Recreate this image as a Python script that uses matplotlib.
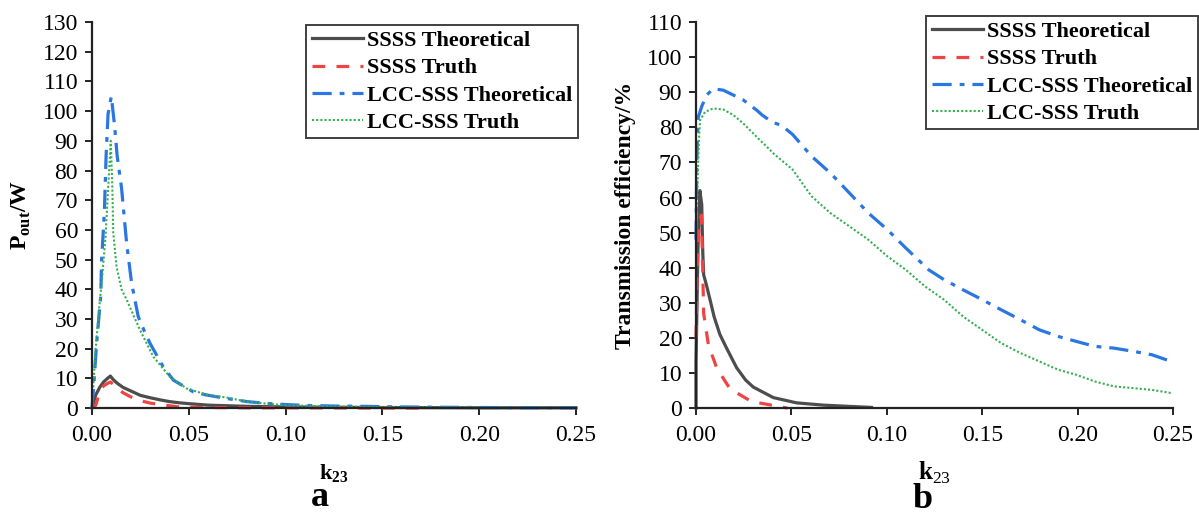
import numpy as np
import matplotlib
matplotlib.use("Agg")
import matplotlib.pyplot as plt
from matplotlib.ticker import MultipleLocator, FormatStrFormatter

plt.rcParams['font.family'] = ['Liberation Serif', 'DejaVu Serif']
plt.rcParams['mathtext.fontset'] = 'custom'
plt.rcParams['mathtext.rm'] = 'Liberation Serif'
plt.rcParams['mathtext.bf'] = 'Liberation Serif:bold'

LABELS = ["SSSS Theoretical", "SSSS Truth", "LCC-SSS Theoretical", "LCC-SSS Truth"]
COLORS = ["#4d4d4d", "#f04444", "#2a76e2", "#34b050"]

# ---- (a) output power P_out vs coupling k23 ----
pow_ssss_th_k = [0, 0.002, 0.004, 0.006, 0.008, 0.0095, 0.011, 0.013, 0.016, 0.02, 0.025,
                 0.03, 0.035, 0.04, 0.045, 0.05, 0.06, 0.07, 0.08, 0.1, 0.12, 0.15, 0.2, 0.25]
pow_ssss_th = [0, 4.5, 7, 8.8, 10, 10.8, 9.6, 8.4, 7, 5.8, 4.3,
               3.5, 2.8, 2.2, 1.8, 1.5, 1.0, 0.8, 0.6, 0.4, 0.3, 0.2, 0.1, 0.1]

pow_ssss_tr_k = [0, 0.002, 0.004, 0.006, 0.008, 0.0095, 0.011, 0.013, 0.016, 0.02, 0.025,
                 0.03, 0.035, 0.04, 0.045, 0.05, 0.06, 0.08, 0.1, 0.13, 0.17]
pow_ssss_tr = [0, 1.0, 5.5, 7.5, 8.3, 8.8, 8.0, 6.8, 5.2, 3.8, 2.5,
               1.7, 1.2, 0.8, 0.4, 0.3, 0.2, 0.1, 0.1, 0.05, 0]

pow_lcc_th_k = [0, 0.001, 0.0024, 0.0045, 0.005, 0.0064, 0.0073, 0.0083, 0.01, 0.0117, 0.013,
                0.0153, 0.0179, 0.0205, 0.0239, 0.027, 0.03, 0.0368, 0.0421, 0.0523, 0.0593,
                0.07, 0.08, 0.09, 0.1, 0.11, 0.125, 0.14, 0.16, 0.2, 0.25]
pow_lcc_th = [0, 8.3, 21.8, 37.5, 49.8, 66, 85, 99, 105, 95, 85,
              74, 55.5, 42, 30.8, 26, 21.8, 13.9, 9.4, 5.5, 4.4,
              3.2, 2.2, 1.6, 1.2, 0.9, 0.7, 0.6, 0.4, 0.2, 0.1]

pow_lcc_tr_k = [0, 0.0009, 0.0018, 0.0036, 0.0053, 0.007, 0.0085, 0.0097, 0.0105, 0.011,
                0.0127, 0.0153, 0.018, 0.0248, 0.0317, 0.0403, 0.0489, 0.0593, 0.07, 0.08,
                0.09, 0.1, 0.12, 0.15, 0.2, 0.25]
pow_lcc_tr = [0, 9.4, 19.2, 33, 44.2, 57.7, 75.7, 90, 75, 59,
              47.6, 40, 36.4, 26.3, 17.3, 10.5, 6.6, 4.5, 3.5, 2.2,
              1.5, 1.0, 0.6, 0.3, 0.15, 0.1]

# ---- (b) transmission efficiency vs coupling k23 ----
eff_ssss_th_k = [0, 0, 0.001, 0.002, 0.003, 0.0035, 0.004, 0.0055, 0.0073, 0.0095, 0.0125,
                 0.0161, 0.0213, 0.026, 0.03, 0.0405, 0.0527, 0.0667, 0.08, 0.092]
eff_ssss_th = [0, 13, 45, 62, 58, 45, 38, 35, 31, 26, 21,
               17, 11.5, 8, 6, 3, 1.5, 0.85, 0.5, 0.2]

eff_ssss_tr_k = [0, 0.0005, 0.001, 0.002, 0.0028, 0.0035, 0.004, 0.0065, 0.0108, 0.0178,
                 0.029, 0.044, 0.048]
eff_ssss_tr = [20, 35, 47, 53, 55, 40, 27, 18, 11.5, 5.5, 1.9, 0.4, 0]

eff_lcc_th_k = [0, 0.0004, 0.0008, 0.0012, 0.003, 0.0056, 0.009, 0.0143, 0.0196, 0.0248,
                0.0318, 0.0347, 0.04, 0.045, 0.0506, 0.0605, 0.0704, 0.0804, 0.0903, 0.1002,
                0.11, 0.122, 0.13, 0.14, 0.15, 0.16, 0.17, 0.18, 0.19, 0.1994, 0.209,
                0.219, 0.229, 0.239, 0.249]
eff_lcc_th = [48, 70, 78, 83, 86, 89.2, 91, 90.6, 89.2, 87.8,
              84.9, 83.5, 81.5, 80.5, 78, 71.8, 67, 61.3, 55.6, 50.9,
              45.6, 39.4, 36.6, 33.7, 30.9, 28, 25.2, 22.3, 20.4, 19, 17.6,
              17.1, 16.2, 15.2, 13.3]

eff_lcc_tr_k = [0, 0.0005, 0.001, 0.0015, 0.0021, 0.0047, 0.009, 0.0143, 0.0196, 0.0248,
                0.0318, 0.038, 0.0407, 0.0506, 0.0605, 0.0704, 0.0804, 0.0903, 0.1002, 0.11,
                0.12, 0.13, 0.14, 0.15, 0.16, 0.17, 0.18, 0.19, 0.1994, 0.209, 0.219,
                0.229, 0.239, 0.249]
eff_lcc_tr = [45, 58, 68, 76, 82, 84.4, 85.4, 85.1, 83.5, 81.1,
              77.3, 74, 72.5, 68, 60.4, 55.6, 51.8, 48, 43.3, 39.4,
              34.7, 30.9, 26.1, 22.3, 18.5, 15.7, 13.3, 10.9, 9.5, 7.6, 6.2,
              5.7, 5.2, 4.3]

STYLES = [dict(ls="-", lw=2.3),
          dict(ls=(0, (4, 3.5)), lw=2.3),
          dict(ls=(0, (6, 2.5, 1.5, 2.5)), lw=2.3),
          dict(ls=(0, (1, 1)), lw=1.5)]


def style_axes(ax, ymax):
    for side in ("top", "right"):
        ax.spines[side].set_visible(False)
    for side in ("left", "bottom"):
        ax.spines[side].set_linewidth(1.6)
        ax.spines[side].set_color("#222222")
    ax.set_xlim(0, 0.25)
    ax.set_ylim(0, ymax)
    ax.xaxis.set_major_locator(MultipleLocator(0.05))
    ax.xaxis.set_major_formatter(FormatStrFormatter("%.2f"))
    ax.yaxis.set_major_locator(MultipleLocator(10))
    ax.tick_params(axis="both", direction="out", length=5, width=1.4,
                   labelsize=17, color="#222222")
    ax.tick_params(axis="x", pad=7)
    ax.tick_params(axis="y", pad=5)


fig = plt.figure(figsize=(11.99, 5.14), dpi=100)
ax_a = fig.add_axes([0.0767, 0.206, 0.4037, 0.751])
ax_b = fig.add_axes([0.5805, 0.206, 0.3978, 0.751])

series_a = [(pow_ssss_th_k, pow_ssss_th), (pow_ssss_tr_k, pow_ssss_tr),
            (pow_lcc_th_k, pow_lcc_th), (pow_lcc_tr_k, pow_lcc_tr)]
series_b = [(eff_ssss_th_k, eff_ssss_th), (eff_ssss_tr_k, eff_ssss_tr),
            (eff_lcc_th_k, eff_lcc_th), (eff_lcc_tr_k, eff_lcc_tr)]

for ax, series in ((ax_a, series_a), (ax_b, series_b)):
    for (k, v), lab, c, st in zip(series, LABELS, COLORS, STYLES):
        ax.plot(k, v, color=c, label=lab, clip_on=False, **st)

style_axes(ax_a, 130)
style_axes(ax_b, 110)

ax_a.set_ylabel(r"P$_{\mathbf{out}}$/W", fontsize=17, fontweight="bold")
ax_b.set_ylabel("Transmission efficiency/%", fontsize=17, fontweight="bold")
ax_a.yaxis.set_label_coords(-0.122, 0.5)
ax_b.yaxis.set_label_coords(-0.126, 0.5)

ax_a.set_xlabel(r"k$_{\mathbf{23}}$", fontsize=16, fontweight="bold")
ax_b.set_xlabel(r"k$_{23}$", fontsize=18, fontweight="bold")
ax_a.xaxis.set_label_coords(0.5, -0.14)
ax_b.xaxis.set_label_coords(0.5, -0.135)

fig.text(320 / 1199, 1 - 497 / 514, "a", fontsize=26, fontweight="bold", ha="center", va="center")
fig.text(923 / 1199, 1 - 499 / 514, "b", fontsize=26, fontweight="bold", ha="center", va="center")

legend_kw = dict(loc="upper right", frameon=True, fancybox=False, shadow=False,
                 handlelength=2.3, handletextpad=0.2, labelspacing=0.3, borderpad=0.25,
                 borderaxespad=0, prop=dict(family="Liberation Serif", weight="bold", size=16))
leg_a = ax_a.legend(bbox_to_anchor=(578 / 1199, 1 - 25 / 514), bbox_transform=fig.transFigure, **legend_kw)
leg_b = ax_b.legend(bbox_to_anchor=(1198 / 1199, 1 - 16 / 514), bbox_transform=fig.transFigure, **legend_kw)
for leg in (leg_a, leg_b):
    leg.get_frame().set_edgecolor("#111111")
    leg.get_frame().set_linewidth(1.4)

fig.savefig("out.png", dpi=100)
